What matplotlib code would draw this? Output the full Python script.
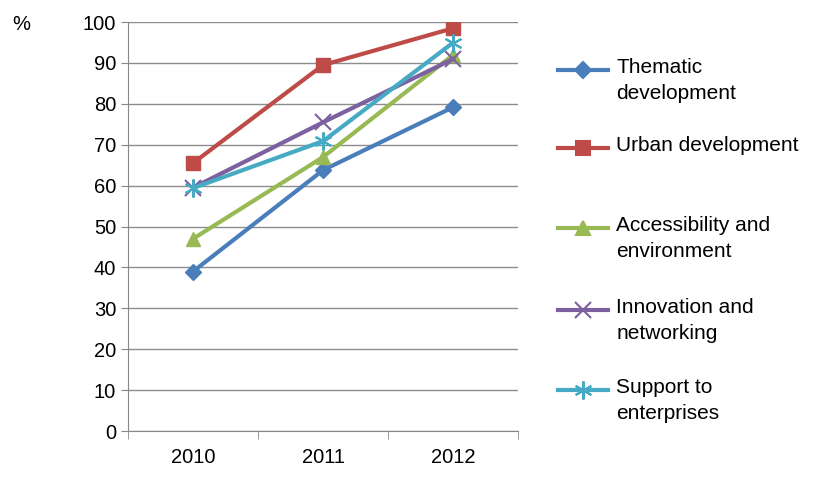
import matplotlib.pyplot as plt
from matplotlib.lines import Line2D

plt.rcParams['font.family'] = ['Liberation Sans', 'DejaVu Sans']

years = ['2010', '2011', '2012']
thematic = [39, 63.8, 79.2]
urban = [65.5, 89.5, 98.5]
access = [47, 67, 92]
innovation = [59.5, 75.5, 91]
support = [59.4, 70.9, 95]

series = [
    ('Thematic\ndevelopment', thematic, '#4a7ebb', 'D', 8),
    ('Urban development', urban, '#be4b48', 's', 10),
    ('Accessibility and\nenvironment', access, '#98b954', '^', 10),
    ('Innovation and\nnetworking', innovation, '#7d60a0', 'x', 11),
    ('Support to\nenterprises', support, '#46aac5', (6, 2, 0), 13),
]

fig = plt.figure(figsize=(8.36, 4.8), dpi=100)
ax = fig.add_axes([0.153, 0.102, 0.467, 0.852])
x = range(len(years))
for label, vals, col, mk, ms in series:
    ax.plot(x, vals, color=col, lw=3, marker=mk, ms=ms, mew=1.5 if mk in ('x', (6, 2, 0)) else 1)

ax.set_ylim(0, 100)
ax.set_xlim(-0.5, 2.5)
ax.set_yticks(range(0, 101, 10))
ax.set_xticks(list(x))
ax.set_xticklabels(years)
ax.set_xticks([-0.5, 0.5, 1.5, 2.5], minor=True)
ax.tick_params(axis='x', which='major', length=0, pad=12, labelsize=14.5)
ax.tick_params(axis='x', which='minor', length=6, color='#888888')
ax.tick_params(axis='y', length=5, color='#888888', labelsize=14.5)
ax.yaxis.grid(True, color='#8c8c8c', lw=1)
ax.set_axisbelow(True)
for s in ['top', 'right']:
    ax.spines[s].set_visible(False)
for s in ['left', 'bottom']:
    ax.spines[s].set_color('#888888')
fig.text(0.015, 0.948, '%', fontsize=14.5, va='center')

ys = [70, 148, 228, 310, 390]
for (label, vals, col, mk, ms), yp in zip(series, ys):
    yf = 1 - yp / 480
    fig.add_artist(Line2D([0.667, 0.727], [yf, yf], color=col, lw=3, transform=fig.transFigure))
    fig.add_artist(Line2D([0.697], [yf], color=col, marker=mk, ms=ms, mew=1.5,
                          transform=fig.transFigure))
    fig.text(0.737, yf + 0.025, label, fontsize=15, va='top', linespacing=1.45)

fig.savefig('out.png')
